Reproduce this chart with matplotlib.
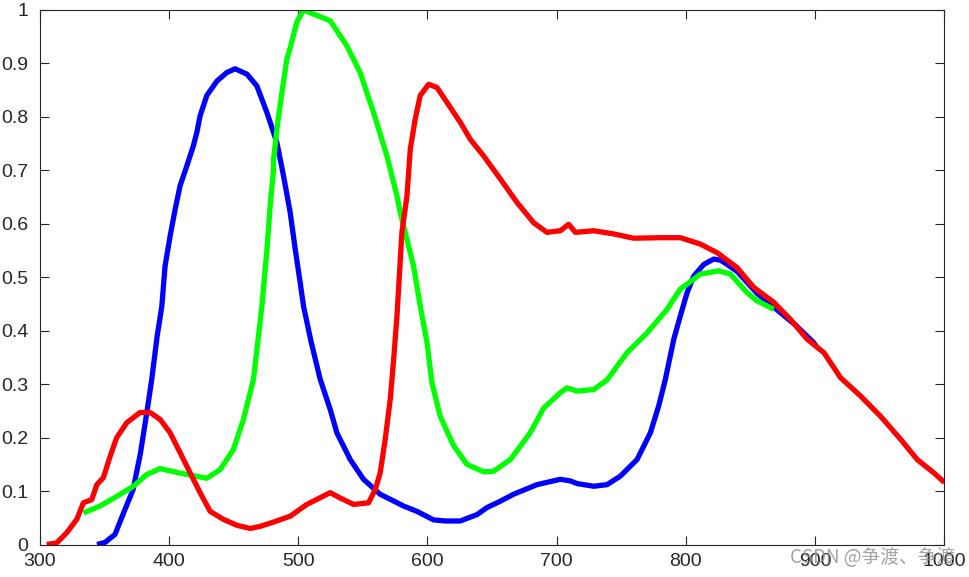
import numpy as np
import matplotlib
matplotlib.use("Agg")
import matplotlib.pyplot as plt

plt.rcParams['font.family'] = ['Liberation Sans', 'DejaVu Sans']

# blue channel
blue_x = [344.5, 350.7, 358.4, 366.0, 372.4, 378.0, 383.0, 386.8, 391.0, 394.6,
          397.1, 401.0, 404.9, 408.7, 413.9, 419.0, 421.7, 424.2, 429.4, 437.2,
          444.9, 451.3, 460.4, 468.1, 475.9, 483.6, 488.7, 493.9, 497.8, 501.6,
          504.2, 510.0, 517.0, 524.8, 530.0, 540.3, 550.6, 563.5, 581.6, 592.0,
          604.8, 614.0, 625.4, 638.4, 646.0, 653.9, 666.7, 684.8, 702.8, 710.6,
          715.8, 728.7, 739.0, 749.3, 762.2, 772.5, 778.9, 784.1, 790.6, 795.7,
          800.9, 806.0, 813.8, 821.5, 826.7, 831.9, 840.0, 855.0, 870.0, 885.0,
          898.7, 901.0]
blue_y = [0.000, 0.004, 0.019, 0.065, 0.103, 0.170, 0.247, 0.309, 0.390, 0.446,
          0.521, 0.577, 0.627, 0.671, 0.708, 0.746, 0.771, 0.802, 0.840, 0.867,
          0.883, 0.890, 0.880, 0.858, 0.808, 0.752, 0.690, 0.621, 0.552, 0.490,
          0.446, 0.380, 0.310, 0.253, 0.209, 0.159, 0.122, 0.094, 0.072, 0.062,
          0.046, 0.044, 0.044, 0.056, 0.069, 0.078, 0.094, 0.112, 0.122, 0.119,
          0.114, 0.109, 0.112, 0.128, 0.159, 0.209, 0.259, 0.309, 0.384, 0.428,
          0.471, 0.502, 0.524, 0.534, 0.532, 0.524, 0.510, 0.470, 0.440, 0.410,
          0.378, 0.370]

# green channel
green_x = [333.9, 346.8, 359.7, 372.6, 383.0, 393.3, 406.2, 414.0, 429.4, 439.7,
           450.0, 457.7, 465.5, 472.0, 475.9, 478.4, 481.0, 481.0, 483.6, 487.5,
           491.3, 494.0, 499.0, 504.0, 514.5, 524.8, 537.7, 548.0, 558.4, 568.7,
           576.5, 579.0, 584.2, 589.3, 594.5, 599.7, 603.5, 609.9, 620.3, 630.6,
           643.5, 651.2, 664.2, 679.6, 689.9, 702.8, 708.0, 715.8, 728.7, 739.0,
           754.5, 770.0, 785.4, 795.7, 800.9, 811.2, 825.4, 834.4, 847.3, 855.0,
           868.0]
green_y = [0.059, 0.072, 0.090, 0.109, 0.131, 0.142, 0.135, 0.131, 0.124, 0.140,
           0.178, 0.234, 0.309, 0.446, 0.552, 0.634, 0.702, 0.720, 0.777, 0.846,
           0.908, 0.930, 0.977, 1.000, 0.990, 0.980, 0.933, 0.883, 0.808, 0.727,
           0.652, 0.621, 0.571, 0.521, 0.446, 0.378, 0.303, 0.240, 0.185, 0.150,
           0.136, 0.137, 0.159, 0.209, 0.255, 0.284, 0.293, 0.287, 0.290, 0.308,
           0.359, 0.396, 0.440, 0.478, 0.487, 0.506, 0.512, 0.506, 0.471, 0.456,
           0.440]

# red channel
red_x = [305.6, 313.3, 321.0, 328.8, 333.9, 340.4, 344.3, 349.4, 354.6, 359.7,
         367.5, 377.8, 385.5, 393.3, 401.0, 408.7, 416.5, 424.2, 432.0, 442.3,
         452.6, 463.0, 470.7, 481.0, 493.9, 506.8, 524.8, 532.6, 542.9, 554.5,
         559.7, 563.5, 567.4, 571.3, 573.9, 576.5, 580.3, 584.2, 586.8, 590.6,
         594.5, 601.0, 607.4, 615.2, 625.4, 633.2, 643.5, 656.4, 669.3, 682.2,
         692.5, 702.8, 709.3, 714.5, 728.7, 744.2, 759.6, 780.2, 795.7, 811.2,
         824.1, 839.6, 852.5, 868.0, 880.9, 893.8, 906.7, 919.6, 935.0, 950.5,
         966.0, 978.9, 991.8, 1000.0]
red_y = [0.000, 0.003, 0.022, 0.047, 0.078, 0.084, 0.112, 0.125, 0.165, 0.200,
         0.228, 0.247, 0.247, 0.234, 0.209, 0.172, 0.134, 0.097, 0.062, 0.047,
         0.036, 0.030, 0.034, 0.042, 0.053, 0.075, 0.097, 0.087, 0.075, 0.078,
         0.103, 0.134, 0.197, 0.272, 0.346, 0.428, 0.584, 0.652, 0.740, 0.796,
         0.840, 0.861, 0.855, 0.827, 0.790, 0.758, 0.727, 0.684, 0.640, 0.602,
         0.584, 0.587, 0.599, 0.584, 0.587, 0.581, 0.573, 0.574, 0.574, 0.562,
         0.546, 0.518, 0.481, 0.453, 0.421, 0.384, 0.359, 0.312, 0.278, 0.240,
         0.197, 0.159, 0.134, 0.116]

x_ticks = [300, 400, 500, 600, 700, 800, 900, 1000]
y_ticks = [0, 0.1, 0.2, 0.3, 0.4, 0.5, 0.6, 0.7, 0.8, 0.9, 1]
y_labels = ['0', '0.1', '0.2', '0.3', '0.4', '0.5', '0.6', '0.7', '0.8', '0.9', '1']

fig = plt.figure(figsize=(9.69, 5.77), dpi=100)
ax = fig.add_axes([0.0408, 0.0563, 0.9339, 0.9264])

lw = 3.8
ax.plot(blue_x, blue_y, color='#0000ff', lw=lw, solid_capstyle='butt')
ax.plot(green_x, green_y, color='#00ff00', lw=lw, solid_capstyle='butt')
ax.plot(red_x, red_y, color='#ff0000', lw=lw, solid_capstyle='butt')

ax.set_xlim(300, 1000)
ax.set_ylim(0, 1)
ax.set_xticks(x_ticks)
ax.set_yticks(y_ticks)
ax.set_yticklabels(y_labels)

for s in ax.spines.values():
    s.set_color('#262626')
    s.set_linewidth(0.8)
ax.tick_params(direction='in', length=6.5, width=0.8, color='#262626',
               labelcolor='#262626', labelsize=14, top=True, right=True)
ax.tick_params(axis='y', pad=8)
ax.tick_params(axis='x', pad=6)

# watermark (overlaps the last tick labels, as in the original)
fig.text(0.986, 0.034, 'CSDN @争渡、争渡', ha='right', va='center', fontsize=13.5,
         color='#8c8c8c', alpha=0.8,
         family=['Noto Sans CJK SC', 'DejaVu Sans'])

fig.savefig('out.png', dpi=100)
